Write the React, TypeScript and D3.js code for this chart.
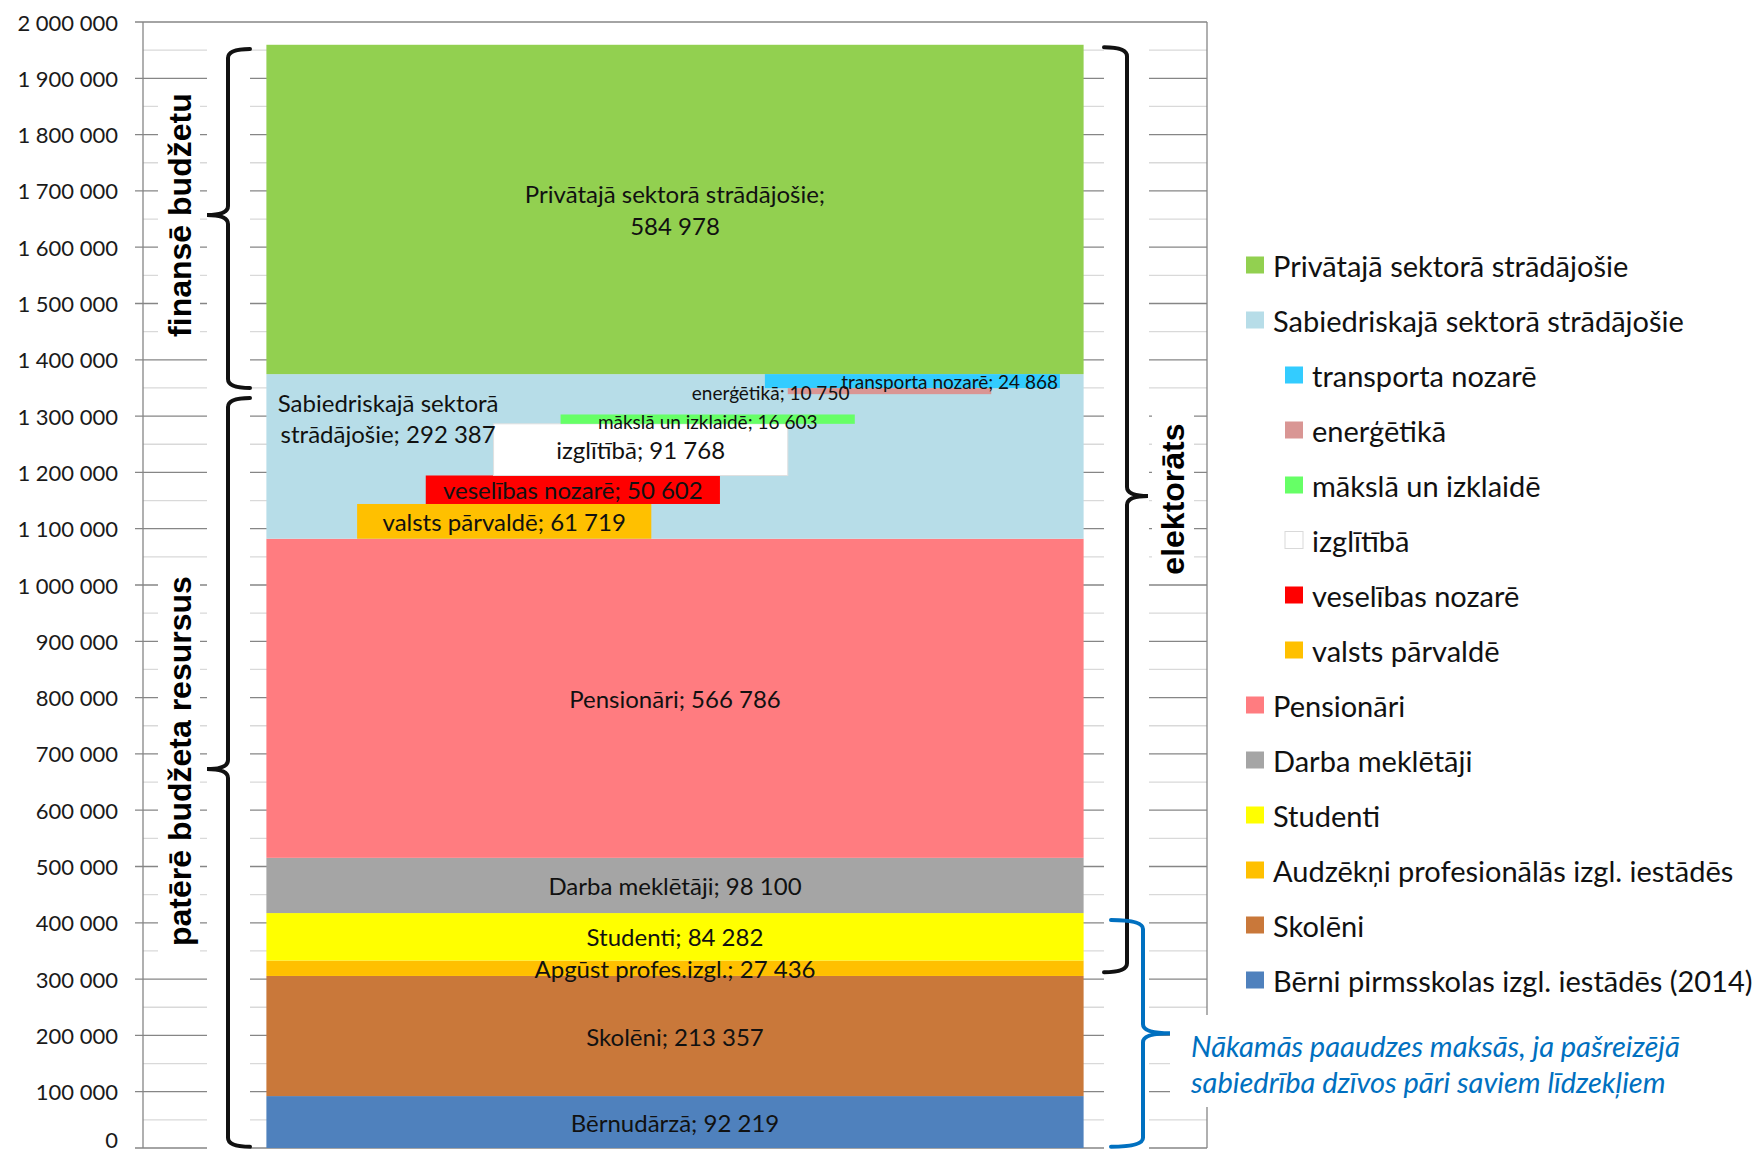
import * as d3 from "d3";

// stacked main bar, bottom to top
const segLabels = [
  "Bērnudārzā",
  "Skolēni",
  "Apgūst profes.izgl.",
  "Studenti",
  "Darba meklētāji",
  "Pensionāri",
  "Sabiedriskajā sektorā strādājošie",
  "Privātajā sektorā strādājošie",
];
const segValues = [92219, 213357, 27436, 84282, 98100, 566786, 292387, 584978];
const segColors = ["#4F81BD", "#C9783A", "#FFC000", "#FFFF00", "#A5A5A5", "#FF7C80", "#B7DDE8", "#92D050"];

// public sector breakdown: stacked up from the sector's base
const subLowNames = ["valsts pārvaldē", "veselības nozarē", "izglītībā", "mākslā un izklaidē"];
const subLowValues = [61719, 50602, 91768, 16603];
const subLowColors = ["#FFC000", "#FF0000", "#FFFFFF", "#66FF66"];
// ...and stacked down from the sector's top
const subTopNames = ["transporta nozarē", "enerģētikā"];
const subTopValues = [24868, 10750];
const subTopColors = ["#33CCFF", "#D99694"];

const legendNames = [
  "Privātajā sektorā strādājošie",
  "Sabiedriskajā sektorā strādājošie",
  "transporta nozarē",
  "enerģētikā",
  "mākslā un izklaidē",
  "izglītībā",
  "veselības nozarē",
  "valsts pārvaldē",
  "Pensionāri",
  "Darba meklētāji",
  "Studenti",
  "Audzēkņi profesionālās izgl. iestādēs",
  "Skolēni",
  "Bērni pirmsskolas izgl. iestādēs (2014)",
];
const legendColors = [
  "#92D050", "#B7DDE8", "#33CCFF", "#D99694", "#66FF66", "#FFFFFF", "#FF0000",
  "#FFC000", "#FF7C80", "#A5A5A5", "#FFFF00", "#FFC000", "#C9783A", "#4F81BD",
];
const legendIndent = [0, 0, 1, 1, 1, 1, 1, 1, 0, 0, 0, 0, 0, 0];

const yMax = 2000000;
const yStep = 100000;

// braces: [from, to, tip] in data units
const braceFin = [1952000, 1350000, 1657000];
const braceCons = [1332000, 2000, 673000];
const braceElect = [1955000, 312000, 1158000];
const braceNext = [405000, 2000, 204000];

const W = 1761;
const H = 1153;
const FONT = "Lato, 'Open Sans', sans-serif";
const BOLD = "'Liberation Sans', Arial, sans-serif";

const fmt = (v: number) => d3.format(",")(v).replace(/,/g, " ");

function brace(xs: number, xe: number, xt: number, y0: number, y1: number, ym: number) {
  const r = 9;
  const p = d3.path();
  p.moveTo(xe, y0);
  p.quadraticCurveTo(xs, y0, xs, y0 + r);
  p.lineTo(xs, ym - r);
  p.quadraticCurveTo(xs, ym, xt, ym);
  p.quadraticCurveTo(xs, ym, xs, ym + r);
  p.lineTo(xs, y1 - r);
  p.quadraticCurveTo(xs, y1, xe, y1);
  return p.toString();
}

export default function App() {
  const plotL = 143;
  const plotR = 1207;
  const y = d3.scaleLinear().domain([0, yMax]).range([1148, 22]);
  const x = d3.scaleBand().domain(["2014"]).range([plotL, plotR]).paddingOuter(0.151).paddingInner(0);
  const bx0 = x("2014")!;
  const bw = x.bandwidth();
  const fx = d3.scaleLinear().domain([0, 1]).range([bx0, bx0 + bw]);

  const tops = Array.from(d3.cumsum(segValues));
  const bases = tops.map((t, i) => t - segValues[i]);

  const pubBase = bases[6];
  const pubTop = tops[6];
  const lowTops = Array.from(d3.cumsum(subLowValues)).map((v) => pubBase + v);
  const topBottoms = Array.from(d3.cumsum(subTopValues)).map((v) => pubTop - v);

  // horizontal extents of breakdown bars, as share of the main bar
  const lowX = [0.111, 0.195, 0.278, 0.36];
  const lowW = 0.36;
  const topX = [
    [0.61, 0.971],
    [0.638, 0.887],
  ];

  const majors = d3.range(0, yMax + 1, yStep);
  const minors = d3.range(yStep / 2, yMax, yStep);

  const legendY = d3.scalePoint<string>().domain(legendNames).range([265, 980]);

  const labelFs = 24;
  const smallFs = 19;

  return (
    <svg width={W} height={H} style={{ position: "absolute", left: 0, top: 0, background: "#fff" }}>
      <rect x={0} y={0} width={W} height={H} fill="#fff" />
      {/* gridlines */}
      {minors.map((v) => (
        <line key={"mi" + v} x1={plotL} x2={plotR} y1={y(v)} y2={y(v)} stroke="#D9D9D9" strokeWidth={1.3} />
      ))}
      {majors.map((v) => (
        <line key={"ma" + v} x1={plotL - 8} x2={plotR} y1={y(v)} y2={y(v)} stroke="#868686" strokeWidth={1.3} />
      ))}
      <line x1={plotL} x2={plotL} y1={y(yMax)} y2={y(0)} stroke="#868686" strokeWidth={1.3} />
      <line x1={plotR} x2={plotR} y1={y(yMax)} y2={y(0)} stroke="#868686" strokeWidth={1.3} />

      {/* white boxes behind annotations */}
      <rect x={207} y={y(yMax) + 6} width={43} height={H} fill="#fff" />
      <rect x={1104} y={y(yMax) + 6} width={45} height={H} fill="#fff" />
      <rect x={158} y={88} width={42} height={259} fill="#fff" />
      <rect x={158} y={568} width={42} height={385} fill="#fff" />
      <rect x={1152} y={412} width={42} height={162} fill="#fff" />
      <rect x={1170} y={1015} width={W - 1170} height={92} fill="#fff" />

      {/* tick labels */}
      {majors.map((v) => (
        <text
          key={"t" + v}
          x={118}
          y={v === 0 ? y(v) - 9 : y(v)}
          textAnchor="end"
          dominantBaseline="central"
          fontFamily={FONT}
          fontSize={22}
          fill="#1a1a1a"
        >
          {fmt(v)}
        </text>
      ))}

      {/* main stacked bar */}
      {segValues.map((v, i) => (
        <rect key={"s" + i} x={bx0} width={bw} y={y(tops[i])} height={y(bases[i]) - y(tops[i])} fill={segColors[i]} />
      ))}

      {/* public sector breakdown */}
      {subLowValues.map((v, i) => (
        <rect
          key={"l" + i}
          x={fx(lowX[i])}
          width={fx(lowX[i] + lowW) - fx(lowX[i])}
          y={y(lowTops[i])}
          height={y(lowTops[i] - v) - y(lowTops[i])}
          fill={subLowColors[i]}
          stroke={subLowColors[i] === "#FFFFFF" ? "#E0E0E0" : "none"}
        />
      ))}
      {subTopValues.map((v, i) => (
        <rect
          key={"u" + i}
          x={fx(topX[i][0])}
          width={fx(topX[i][1]) - fx(topX[i][0])}
          y={y(topBottoms[i] + v)}
          height={y(topBottoms[i]) - y(topBottoms[i] + v)}
          fill={subTopColors[i]}
        />
      ))}

      {/* segment labels */}
      <g fontFamily={FONT} fontSize={labelFs} fill="#111" textAnchor="middle">
        {[0, 1, 2, 3, 4, 5].map((i) => (
          <text key={"sl" + i} x={bx0 + bw / 2} y={(y(tops[i]) + y(bases[i])) / 2} dominantBaseline="central">
            {segLabels[i]}; {fmt(segValues[i])}
          </text>
        ))}
        <text x={bx0 + bw / 2} y={(y(tops[7]) + y(bases[7])) / 2 - 16} dominantBaseline="central">
          {segLabels[7]};
        </text>
        <text x={bx0 + bw / 2} y={(y(tops[7]) + y(bases[7])) / 2 + 16} dominantBaseline="central">
          {fmt(segValues[7])}
        </text>
        <text x={fx(0.149)} y={y(pubTop) + 28} dominantBaseline="central">
          Sabiedriskajā sektorā
        </text>
        <text x={fx(0.149)} y={y(pubTop) + 59} dominantBaseline="central">
          strādājošie; {fmt(segValues[6])}
        </text>
        {[0, 1, 2].map((i) => (
          <text
            key={"ll" + i}
            x={fx(lowX[i] + lowW / 2)}
            y={(y(lowTops[i]) + y(lowTops[i] - subLowValues[i])) / 2}
            dominantBaseline="central"
          >
            {subLowNames[i]}; {fmt(subLowValues[i])}
          </text>
        ))}
      </g>
      <g fontFamily={FONT} fontSize={smallFs} fill="#111" textAnchor="middle">
        <text x={fx(lowX[3] + lowW / 2)} y={y(lowTops[3]) + 7} dominantBaseline="central">
          {subLowNames[3]}; {fmt(subLowValues[3])}
        </text>
        <text x={fx(0.617)} y={y(topBottoms[1] + subTopValues[1] / 2) + 1} dominantBaseline="central">
          {subTopNames[1]}; {fmt(subTopValues[1])}
        </text>
        <text x={fx(0.836)} y={y(topBottoms[0] + subTopValues[0] / 2)} dominantBaseline="central">
          {subTopNames[0]}; {fmt(subTopValues[0])}
        </text>
      </g>

      {/* braces */}
      <g fill="none" stroke="#111" strokeWidth={4} strokeLinecap="round">
        <path d={brace(228, 250, 207, y(braceFin[0]), y(braceFin[1]), y(braceFin[2]))} />
        <path d={brace(228, 250, 207, y(braceCons[0]), y(braceCons[1]), y(braceCons[2]))} />
        <path d={brace(1127, 1104, 1148, y(braceElect[0]), y(braceElect[1]), y(braceElect[2]))} />
      </g>
      <path
        d={brace(1143, 1111, 1170, y(braceNext[0]), y(braceNext[1]), y(braceNext[2]))}
        fill="none"
        stroke="#0070C0"
        strokeWidth={4}
        strokeLinecap="round"
      />

      {/* rotated captions */}
      <g fontFamily={BOLD} fontWeight="bold" fontSize={32} fill="#000" textAnchor="middle">
        <text transform={`translate(180,${y(braceFin[2])}) rotate(-90)`} dominantBaseline="central">
          finansē budžetu
        </text>
        <text transform={`translate(180,${y(braceCons[2]) - 8}) rotate(-90)`} dominantBaseline="central">
          patērē budžeta resursus
        </text>
        <text transform={`translate(1173,${y(braceElect[2]) + 3}) rotate(-90)`} dominantBaseline="central">
          elektorāts
        </text>
      </g>

      {/* note */}
      <g fontFamily={FONT} fontStyle="italic" fontSize={29} fill="#0070C0">
        <text x={1191} y={1045} dominantBaseline="central">
          Nākamās paaudzes maksās, ja pašreizējā
        </text>
        <text x={1191} y={1081} dominantBaseline="central">
          sabiedrība dzīvos pāri saviem līdzekļiem
        </text>
      </g>

      {/* legend */}
      <g fontFamily={FONT} fontSize={29} fill="#111">
        {legendNames.map((n, i) => {
          const lx = 1246 + legendIndent[i] * 39;
          const ly = legendY(n)!;
          return (
            <g key={"lg" + i}>
              <rect
                x={lx}
                y={ly - 8.5}
                width={18}
                height={17}
                fill={legendColors[i]}
                stroke={legendColors[i] === "#FFFFFF" ? "#D9D9D9" : "none"}
              />
              <text x={lx + 27} y={ly} dominantBaseline="central">
                {n}
              </text>
            </g>
          );
        })}
      </g>
    </svg>
  );
}
